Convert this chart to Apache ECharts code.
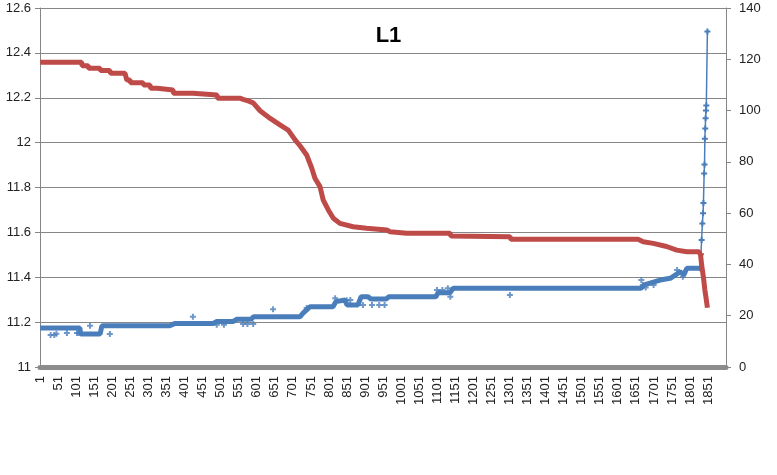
<!DOCTYPE html>
<html>
<head>
<meta charset="utf-8">
<script src="https://cdn.jsdelivr.net/npm/echarts@6/dist/echarts.min.js"></script>
<style>
html,body{margin:0;padding:0;background:#fff;}
#chart{width:777px;height:475px;}
</style>
</head>
<body>
<div id="chart"></div>
<script>
// ---- data ----
const chartTitle = 'L1';
const categoryCount = 1900;           // categories are 1..categoryCount
const xLabelEvery = 50;               // tick labels: 1, 51, 101, ...
const leftAxis = { min: 11, max: 12.6, step: 0.2 };
const rightAxis = { min: 0, max: 140, step: 20 };

// red series (left axis): [category number, value]
const redPoints = [
  [1,12.358],[116,12.358],[117,12.343],[134,12.343],[135,12.331],[167,12.331],[168,12.321],[194,12.321],
  [196,12.309],[236,12.309],[241,12.279],[250,12.279],[251,12.267],[286,12.267],[287,12.257],[305,12.257],
  [307,12.242],[325,12.242],[327,12.235],[369,12.235],[370,12.22],[424,12.22],[426,12.212],[491,12.212],
  [492,12.198],[554,12.198],[563,12.193],[577,12.186],[591,12.177],[610,12.142],[638,12.108],[665,12.079],
  [688,12.056],[707,12.012],[721,11.985],[739,11.945],[753,11.887],[762,11.841],[776,11.804],[785,11.744],
  [799,11.70],[813,11.663],[831,11.64],[868,11.625],[905,11.618],[961,11.611],[970,11.603],[1016,11.596],
  [1136,11.596],[1139,11.584],[1302,11.581],[1305,11.569],[1657,11.569],[1671,11.558],[1699,11.551],
  [1736,11.537],[1764,11.521],[1792,11.514],[1826,11.514],[1830,11.50],[1833,11.455],[1838,11.40],
  [1842,11.343],[1845,11.31],[1849,11.264]
];

// blue series (right axis): main body
const blueBody = [
  [1,15.2],[111,15.2],[113,12.9],[167,12.9],[172,16.1],[360,16.1],[375,17.0],[480,17.0],[490,17.7],
  [535,17.7],[545,18.6],[585,18.6],[592,19.6],[721,19.6],[729,21.0],[739,22.3],[748,23.5],[812,23.5],
  [820,25.5],[845,26.1],[851,24.2],[881,24.2],[890,27.4],[909,27.4],[917,26.5],[959,26.5],[967,27.4],
  [1097,27.4],[1103,29.0],[1136,29.0],[1145,30.7],[1665,30.7],[1674,32.0],[1718,33.9],[1746,34.6],
  [1762,36.0],[1773,37.2],[1784,36.0],[1792,38.5],[1829,38.5]
];
// blue series: final spike
const blueSpike = [
  [1829,38.5],[1831,44.0],[1833,49.5],[1835,56.0],[1837,60.0],[1838,64.0],[1840,75.5],[1841,79.0],
  [1842,89.0],[1843,93.0],[1844,97.0],[1845,100.0],[1846,102.0],[1849,130.8]
];
// blue series: isolated points off the main band
const blueOutliers = [
  [30,12.5],[40,12.5],[46,13.0],[75,13.3],[103,13.3],[108,13.3],[139,16.1],[194,12.9],[424,19.6],
  [490,16.5],[510,16.5],[563,16.8],[575,16.8],[591,16.8],[646,22.5],[739,23.0],[818,26.8],[850,26.0],
  [860,26.1],[895,24.2],[920,24.2],[940,24.2],[955,24.2],[1100,30.0],[1115,30.0],[1130,30.7],[1137,27.4],
  [1302,28.1],[1666,33.9],[1670,32.0],[1678,31.0],[1700,32.0],[1765,37.8],[1781,35.2]
];

// ---- chart ----
const categories = [];
for (let i = 1; i <= categoryCount; i++) categories.push(String(i));
const toIdx = arr => arr.map(([c, v]) => [c - 1, v]);

const FONT = '"Liberation Sans", Arial, sans-serif';
const GRID = '#868686';
const BLUE = '#4A7EBB';
const RED = '#BE4B48';
const PLUS = 'path://M2,0h2v2h2v2h-2v2h-2v-2h-2v-2h2z';

const chart = echarts.init(document.getElementById('chart'), null, { renderer: 'canvas' });
chart.setOption({
  animation: false,
  backgroundColor: '#fff',
  title: {
    text: chartTitle, left: 'center', top: 20,
    textStyle: { fontSize: 22, fontWeight: 'bold', color: '#000', fontFamily: FONT }
  },
  grid: { left: 40, right: 51, top: 8, bottom: 108 },
  xAxis: {
    type: 'category', data: categories, boundaryGap: true, offset: 2,
    axisLine: { show: true, lineStyle: { color: '#8c8c8c', width: 5 } },
    axisTick: { show: false },
    splitLine: { show: false },
    axisLabel: { interval: xLabelEvery - 1, rotate: 90, fontSize: 13, color: '#222', margin: 7, fontFamily: FONT }
  },
  yAxis: [
    {
      type: 'value', position: 'left', min: leftAxis.min, max: leftAxis.max, interval: leftAxis.step,
      axisLine: { show: true, lineStyle: { color: GRID } },
      axisTick: { show: true, length: 5, lineStyle: { color: GRID } },
      splitLine: { show: true, lineStyle: { color: GRID, width: 1 } },
      axisLabel: { fontSize: 13, color: '#222', margin: 9, fontFamily: FONT }
    },
    {
      type: 'value', position: 'right', min: rightAxis.min, max: rightAxis.max, interval: rightAxis.step,
      axisLine: { show: true, lineStyle: { color: GRID } },
      axisTick: { show: true, length: 5, lineStyle: { color: GRID } },
      splitLine: { show: false },
      axisLabel: { fontSize: 13, color: '#222', margin: 13, fontFamily: FONT }
    }
  ],
  series: [
    {
      type: 'line', yAxisIndex: 1, data: toIdx(blueBody), symbol: 'none',
      lineStyle: { color: BLUE, width: 5 }, itemStyle: { color: BLUE }, z: 2
    },
    {
      type: 'scatter', yAxisIndex: 1, data: toIdx(blueOutliers), symbol: PLUS, symbolSize: 6,
      itemStyle: { color: BLUE }, z: 2
    },
    {
      type: 'line', yAxisIndex: 1, data: toIdx(blueSpike), symbol: PLUS, symbolSize: 6,
      showSymbol: true, showAllSymbol: true,
      lineStyle: { color: BLUE, width: 1.5 }, itemStyle: { color: BLUE }, z: 2
    },
    {
      type: 'line', yAxisIndex: 0, data: toIdx(redPoints), symbol: 'none',
      lineStyle: { color: RED, width: 5 }, itemStyle: { color: RED }, z: 3
    }
  ]
});
</script>
</body>
</html>
